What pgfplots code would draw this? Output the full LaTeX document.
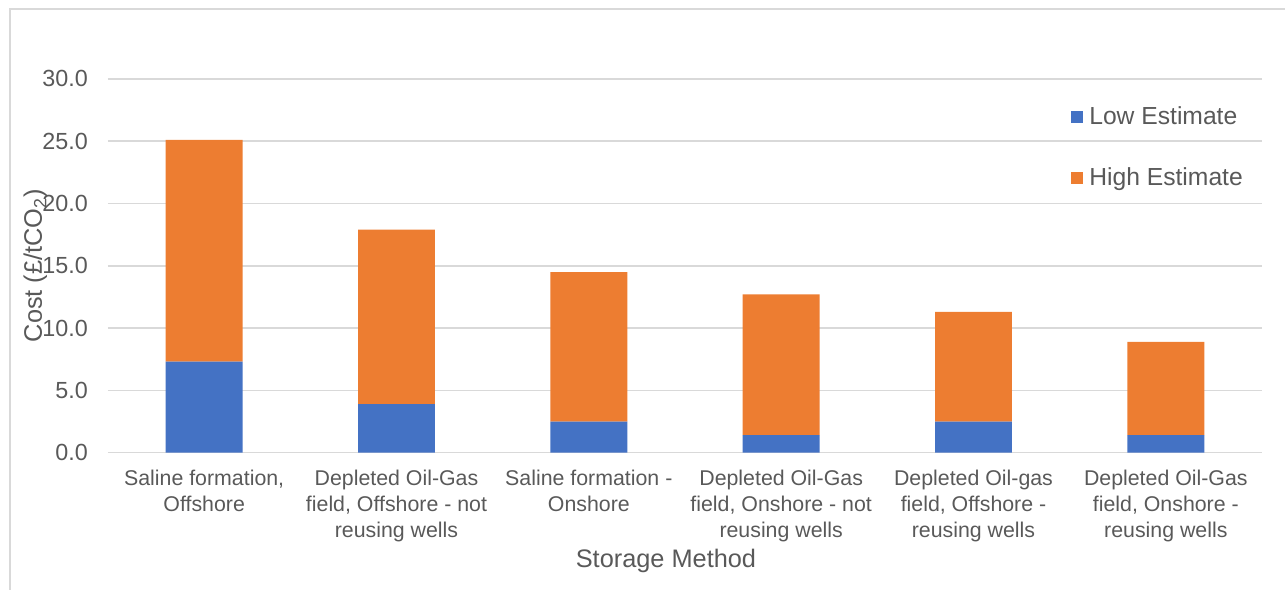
\documentclass[border=0pt]{standalone}
\usepackage{pgfplots}
\pgfplotsset{compat=1.18}
\usepackage{fontspec}
\setmainfont{Liberation Sans}
\definecolor{lowc}{HTML}{4472C4}
\definecolor{highc}{HTML}{ED7D31}
\definecolor{txt}{HTML}{595959}
\definecolor{gridc}{HTML}{D9D9D9}
\begin{document}
\begin{tikzpicture}
\useasboundingbox (0,0) rectangle (963.75pt,-441.75pt);
\draw[gridc, line width=1.3pt] (7.5pt,-460pt) -- (7.5pt,-6.75pt) -- (980pt,-6.75pt);
\begin{axis}[
  at={(81pt,-339.5pt)}, anchor=south west,
  scale only axis, width=865.5pt, height=280.3pt,
  ybar stacked, bar width=0.4,
  xmin=-0.5, xmax=5.5, ymin=0, ymax=30,
  xtick={0,...,5},
  xticklabels={
    {Saline formation,\\Offshore},
    {Depleted Oil-Gas\\field, Offshore - not\\reusing wells},
    {Saline formation -\\Onshore},
    {Depleted Oil-Gas\\field, Onshore - not\\reusing wells},
    {Depleted Oil-gas\\field, Offshore -\\reusing wells},
    {Depleted Oil-Gas\\field, Onshore -\\reusing wells}},
  ytick={0,5,...,30},
  axis x line*=bottom, axis y line*=left,
  axis line style={draw=none},
  major tick length=0pt, tick style={draw=none},
  ymajorgrids, grid style={gridc, line width=1.2pt},
  yticklabel style={font=\fontsize{17.5}{21}\selectfont, text=txt, inner sep=0pt, xshift=-15pt,
    /pgf/number format/.cd, fixed, fixed zerofill, precision=1, assume math mode=true},
  xticklabel style={font=\fontsize{16}{19.5}\selectfont, text=txt, align=center, inner sep=0pt, yshift=-12.5pt},
  xlabel={Storage Method},
  ylabel={Cost (£/tCO\textsubscript{2})},
  every axis x label/.style={at={(axis description cs:0.4835,-0.306)}, anchor=base, font=\fontsize{19}{23}\selectfont, text=txt},
  every axis y label/.style={at={(axis description cs:-0.0572,0.5)}, anchor=base, rotate=90, font=\fontsize{19}{23}\selectfont, text=txt},
  legend image code/.code={\fill[#1] (0pt,-4.3pt) rectangle (8.5pt,4.3pt); \path (11.5pt,0pt);},
  legend cell align=left,
  legend style={at={(axis description cs:0.8345,0.933)}, anchor=north west, draw=none, fill=none,
    font=\fontsize{18.5}{22}\selectfont, text=txt, row sep=27pt, inner sep=0pt},
]
\addplot[fill=lowc, draw=none] coordinates {(0,7.3) (1,3.9) (2,2.5) (3,1.4) (4,2.5) (5,1.4)};
\addplot[fill=highc, draw=none] coordinates {(0,17.8) (1,14.0) (2,12.0) (3,11.3) (4,8.8) (5,7.5)};
\legend{Low Estimate, High Estimate}
\end{axis}
\end{tikzpicture}
\end{document}
